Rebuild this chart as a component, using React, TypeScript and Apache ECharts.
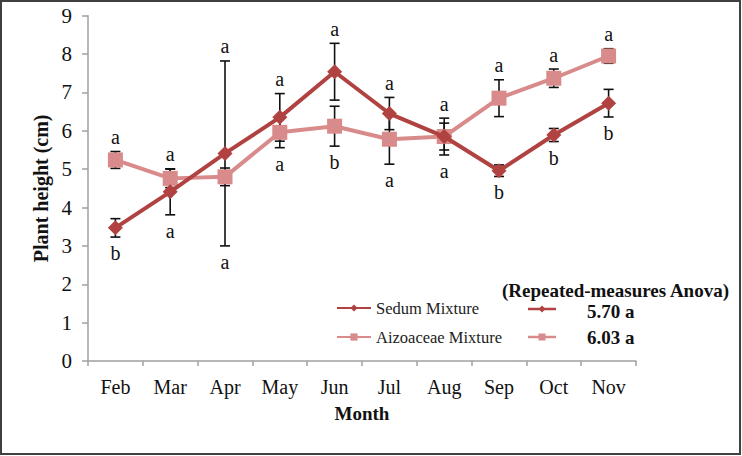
import React, { useEffect, useRef } from "react";
import * as echarts from "echarts";

const months = ["Feb", "Mar", "Apr", "May", "Jun", "Jul", "Aug", "Sep", "Oct", "Nov"];
const sedumMean = [3.47, 4.41, 5.41, 6.35, 7.54, 6.45, 5.85, 4.96, 5.89, 6.72];
const sedumErr = [0.24, 0.6, 2.41, 0.62, 0.74, 0.42, 0.35, 0.15, 0.17, 0.36];
const aizoMean = [5.24, 4.76, 4.8, 5.96, 6.12, 5.78, 5.85, 6.85, 7.37, 7.95];
const aizoErr = [0.22, 0.24, 0.23, 0.4, 0.52, 0.65, 0.48, 0.48, 0.24, 0.19];
const sedumLetters = ["b", "a", "a", "a", "a", "a", "a", "b", "b", "b"];
const aizoLetters = ["a", "a", "a", "a", "b", "a", "a", "a", "a", "a"];
const yTicks = [0, 1, 2, 3, 4, 5, 6, 7, 8, 9];
const seriesNames = ["Sedum Mixture", "Aizoaceae Mixture"];
const anovaTitle = "(Repeated-measures Anova)";
const anovaValues = ["5.70 a", "6.03 a"];

const SEDUM = "#B04341";
const AIZO = "#D98A8A";
const FONT = "'Liberation Serif', Tinos, 'Times New Roman', serif";

export default function App() {
  const ref = useRef<HTMLDivElement>(null);
  useEffect(() => {
    document.body.style.margin = "0";
    const chart = echarts.init(ref.current!, null, { renderer: "svg" });

    const errSeries = (mean: number[], err: number[]) => ({
      type: "custom",
      z: 1,
      silent: true,
      data: mean.map((m, i) => [i, m, err[i]]),
      renderItem: (params: any, api: any) => {
        const i = api.value(0);
        const m = api.value(1);
        const e = api.value(2);
        const t = api.coord([i, m + e]);
        const b = api.coord([i, m - e]);
        const cap = 5;
        const st = { stroke: "#111", lineWidth: 1.6 };
        return {
          type: "group",
          children: [
            { type: "line", shape: { x1: t[0], y1: t[1], x2: b[0], y2: b[1] }, style: st },
            { type: "line", shape: { x1: t[0] - cap, y1: t[1], x2: t[0] + cap, y2: t[1] }, style: st },
            { type: "line", shape: { x1: b[0] - cap, y1: b[1], x2: b[0] + cap, y2: b[1] }, style: st },
          ],
        };
      },
    });

    const letterData = months.map((_, i) => {
      const sTop = sedumMean[i] + sedumErr[i];
      const aTop = aizoMean[i] + aizoErr[i];
      const sBot = sedumMean[i] - sedumErr[i];
      const aBot = aizoMean[i] - aizoErr[i];
      return [i, Math.max(sTop, aTop), Math.min(sBot, aBot)];
    });

    chart.setOption({
      animation: false,
      textStyle: { fontFamily: FONT },
      grid: { left: 88, right: 106, top: 15.7, bottom: 95 },
      legend: {
        orient: "vertical",
        left: 336,
        top: 299.5,
        padding: 0,
        itemWidth: 34,
        itemHeight: 9,
        itemGap: 12,
        data: seriesNames,
        textStyle: { fontFamily: FONT, fontSize: 16.5, color: "#222" },
      },
      xAxis: {
        type: "category",
        data: months,
        boundaryGap: true,
        name: "Month",
        nameLocation: "middle",
        nameGap: 43,
        nameTextStyle: { fontFamily: FONT, fontSize: 19, fontWeight: "bold", color: "#111" },
        axisLine: { lineStyle: { color: "#A0A0A0", width: 1.5 } },
        axisTick: { show: true, length: 5, lineStyle: { color: "#A0A0A0", width: 1.5 } },
        axisLabel: { fontFamily: FONT, fontSize: 20, color: "#111", margin: 16 },
      },
      yAxis: {
        type: "value",
        min: 0,
        max: 9,
        interval: 1,
        name: "Plant height (cm)",
        nameLocation: "middle",
        nameGap: 37,
        nameRotate: 90,
        nameTextStyle: { fontFamily: FONT, fontSize: 20, fontWeight: "bold", color: "#111" },
        axisLine: { show: true, lineStyle: { color: "#A0A0A0", width: 1.5 } },
        axisTick: { show: true, length: 6, lineStyle: { color: "#A0A0A0", width: 1.5 } },
        splitLine: { show: false },
        axisLabel: {
          fontFamily: FONT,
          fontSize: 21,
          color: "#111",
          margin: 16,
          formatter: (v: number) => (yTicks.includes(v) ? String(v) : ""),
        },
      },
      series: [
        errSeries(sedumMean, sedumErr),
        errSeries(aizoMean, aizoErr),
        {
          name: seriesNames[1],
          type: "line",
          z: 3,
          data: aizoMean,
          symbol: "rect",
          symbolSize: 15,
          lineStyle: { color: AIZO, width: 4 },
          itemStyle: { color: AIZO },
        },
        {
          name: seriesNames[0],
          type: "line",
          z: 4,
          data: sedumMean,
          symbol: "diamond",
          symbolSize: [15, 15],
          lineStyle: { color: SEDUM, width: 4 },
          itemStyle: { color: SEDUM },
        },
        {
          type: "custom",
          z: 5,
          silent: true,
          data: letterData,
          renderItem: (params: any, api: any) => {
            const i = api.value(0);
            const top = api.coord([i, api.value(1)]);
            const bot = api.coord([i, api.value(2)]);
            const sedumUp = sedumMean[i] > aizoMean[i];
            const topL = sedumUp ? sedumLetters[i] : aizoLetters[i];
            const botL = sedumUp ? aizoLetters[i] : sedumLetters[i];
            const st = (t: string) => ({
              text: t,
              fontFamily: FONT,
              fontSize: 20,
              fill: "#111",
              align: "center",
              verticalAlign: "middle",
            });
            return {
              type: "group",
              children: [
                { type: "text", x: top[0], y: top[1] - 14.5, style: st(topL) },
                { type: "text", x: bot[0], y: bot[1] + 16, style: st(botL) },
              ],
            };
          },
        },
      ],
      graphic: [
        {
          type: "rect",
          shape: { x: 1, y: 1, width: 739, height: 453 },
          style: { fill: "none", stroke: "#404040", lineWidth: 2 },
          silent: true,
        },
        {
          type: "text",
          x: 729,
          y: 290,
          style: {
            text: anovaTitle,
            fontFamily: FONT,
            fontSize: 19,
            fontWeight: "bold",
            fill: "#111",
            align: "right",
            verticalAlign: "middle",
          },
        },
        {
          type: "text",
          x: 587,
          y: 311,
          style: { text: anovaValues[0], fontFamily: FONT, fontSize: 19, fontWeight: "bold", fill: "#111", verticalAlign: "middle" },
        },
        {
          type: "text",
          x: 587,
          y: 337,
          style: { text: anovaValues[1], fontFamily: FONT, fontSize: 19, fontWeight: "bold", fill: "#111", verticalAlign: "middle" },
        },
        { type: "line", shape: { x1: 528, y1: 309, x2: 556, y2: 309 }, style: { stroke: SEDUM, lineWidth: 2.5 } },
        { type: "polygon", shape: { points: [[542, 305.5], [545.5, 309], [542, 312.5], [538.5, 309]] }, style: { fill: SEDUM } },
        { type: "line", shape: { x1: 528, y1: 337, x2: 556, y2: 337 }, style: { stroke: AIZO, lineWidth: 2.5 } },
        { type: "rect", shape: { x: 538.5, y: 333.5, width: 7, height: 7 }, style: { fill: AIZO } },
      ],
    });
    return () => chart.dispose();
  }, []);
  return <div ref={ref} style={{ width: 742, height: 456 }} />;
}
